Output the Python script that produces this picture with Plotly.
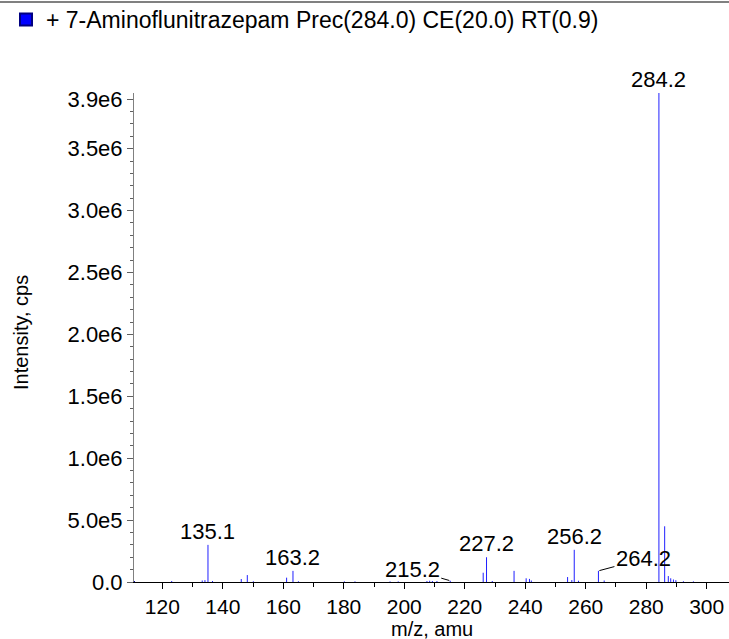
import plotly.graph_objects as go

# ---- data ----
mz = [123.1, 133.2, 134.1, 135.1, 136.6, 146.1, 148.1, 150.1, 161.1, 163.2,
      165.0, 180.2, 183.7, 195.3, 198.0, 207.5, 208.4, 209.3, 210.8, 215.2,
      226.1, 227.2, 229.1, 236.3, 240.3, 241.4, 242.0, 254.0, 255.4, 256.2,
      257.6, 264.2, 266.1, 284.2, 286.1, 287.3, 288.1, 289.0, 289.8, 292.3, 295.6]
intensity = [8e3, 1.2e4, 1.5e4, 3.0e5, 8e3, 2.4e4, 5.6e4, 6e3, 3.5e4, 9.0e4,
             6e3, 5e3, 5e3, 5e3, 5e3, 8e3, 1.0e4, 8e3, 8e3, 1.0e4,
             7.5e4, 2.0e5, 8e3, 9.0e4, 3.0e4, 2.5e4, 1.2e4, 4.0e4, 1.5e4, 2.6e5,
             1.0e4, 9.0e4, 1.2e4, 3.95e6, 4.5e5, 4.8e4, 3.0e4, 2.0e4, 1.5e4, 6e3, 5e3]

label_mz = [135.1, 163.2, 227.2, 256.2, 284.2]
label_text = ["135.1", "163.2", "227.2", "256.2", "284.2"]
arrow_label_mz = [215.2, 264.2]
arrow_label_text = ["215.2", "264.2"]

y_tickvals = [0, 5e5, 1e6, 1.5e6, 2e6, 2.5e6, 3e6, 3.5e6, 3.9e6]
y_ticktext = ["0.0", "5.0e5", "1.0e6", "1.5e6", "2.0e6", "2.5e6", "3.0e6", "3.5e6", "3.9e6"]

series_name = "+ 7-Aminoflunitrazepam Prec(284.0) CE(20.0) RT(0.9)"

X_RANGE = [110.64, 307.37]
Y_RANGE = [0, 3.95e6]

FONT = "Liberation Sans, Arial, Helvetica, sans-serif"
BLUE = "#2020ff"
FS = 22

# stick spectrum
xs, ys = [], []
for m, v in zip(mz, intensity):
    xs += [m, m, None]
    ys += [0, v, None]

fig = go.Figure()
fig.add_trace(go.Scatter(x=xs, y=ys, mode="lines",
                         line=dict(color=BLUE, width=1),
                         showlegend=False, hoverinfo="skip"))
# legend entry
fig.add_trace(go.Scatter(x=[None], y=[None], mode="markers", name=series_name,
                         marker=dict(symbol="square", size=14, color="#0000ff",
                                     line=dict(color="#000080", width=1))))

lookup = dict(zip(mz, intensity))
annotations = []
for m, t in zip(label_mz, label_text):
    annotations.append(dict(x=m, y=lookup[m], text=t, showarrow=False,
                            xanchor="center", yanchor="bottom", yshift=-1,
                            font=dict(size=FS, color="black", family=FONT)))
offsets = {215.2: (-38, -11), 264.2: (45, -12)}
for m, t in zip(arrow_label_mz, arrow_label_text):
    ax, ay = offsets[m]
    annotations.append(dict(x=m, y=lookup[m], text=t, showarrow=True,
                            arrowhead=0, arrowwidth=1, arrowcolor="black",
                            ax=ax, ay=ay, standoff=1,
                            font=dict(size=FS, color="black", family=FONT)))
# axis titles
annotations.append(dict(xref="paper", yref="paper", x=(432 - 134) / 595, y=-(629 - 582) / 489,
                        text="m/z, amu", showarrow=False, xanchor="center", yanchor="middle",
                        font=dict(size=20, color="black", family=FONT)))
annotations.append(dict(xref="paper", yref="paper", x=-(134 - 21) / 595, y=(582 - 333) / 489,
                        text="Intensity, cps", showarrow=False, textangle=-90,
                        xanchor="center", yanchor="middle",
                        font=dict(size=20, color="black", family=FONT)))

shapes = [
    # top border line
    dict(type="line", xref="paper", yref="paper", x0=-134 / 595, x1=1,
         y0=1 + 91 / 489, y1=1 + 91 / 489, line=dict(color="#808080", width=2)),
    # zero marker triangle on the y axis
    dict(type="path", xref="x", yref="y", xsizemode="pixel", ysizemode="pixel",
         xanchor=X_RANGE[0], yanchor=0, path="M -9 -8 L 1 0 L -9 8 Z",
         fillcolor="#0000ff", line=dict(color="#0000a0", width=1)),
]

fig.update_layout(
    width=729, height=639,
    margin=dict(l=134, r=0, t=93, b=57, autoexpand=False),
    paper_bgcolor="white", plot_bgcolor="white",
    font=dict(family=FONT, size=FS, color="black"),
    showlegend=True,
    legend=dict(x=-128 / 595, y=1 + 95 / 489, xanchor="left", yanchor="top",
                font=dict(size=23, family=FONT), bgcolor="rgba(0,0,0,0)",
                itemsizing="constant"),
    annotations=annotations,
    shapes=shapes,
    xaxis=dict(range=X_RANGE, showgrid=False, zeroline=False,
               showline=True, linecolor="black", linewidth=1,
               ticks="outside", ticklen=6, tickcolor="black",
               tick0=0, dtick=20,
               minor=dict(ticks="outside", ticklen=4, tickcolor="black", tick0=0, dtick=10),
               tickfont=dict(size=21, family=FONT)),
    yaxis=dict(range=Y_RANGE, showgrid=False, zeroline=False,
               showline=True, linecolor="#808080", linewidth=1,
               ticks="outside", ticklen=6, tickcolor="#606060",
               tickmode="array", tickvals=y_tickvals, ticktext=y_ticktext,
               minor=dict(ticks="outside", ticklen=3, tickcolor="#606060",
                          tickmode="linear", tick0=0, dtick=1e5),
               tickfont=dict(size=FS, family=FONT)),
)

fig.write_html("out.html", config={"displayModeBar": False},
               post_script="document.body.style.margin='0';document.body.style.overflow='hidden';")
